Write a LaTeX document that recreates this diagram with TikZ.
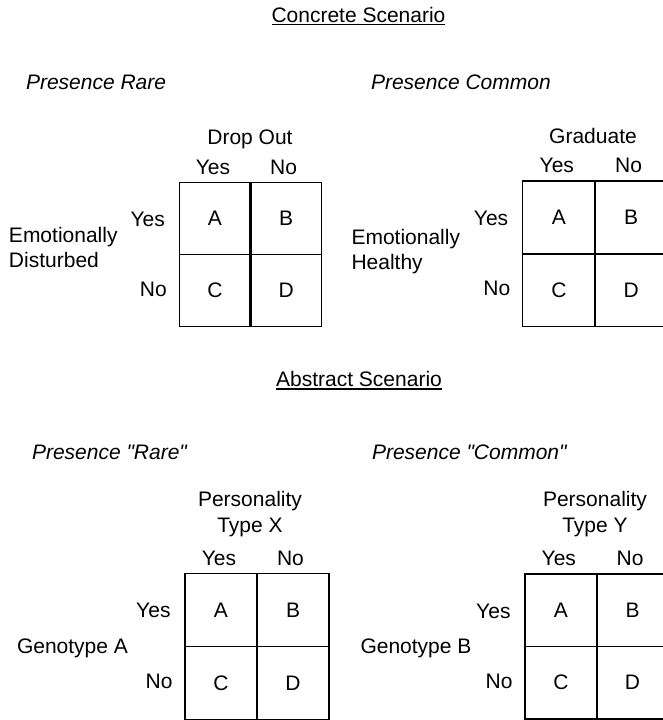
\documentclass[tikz,border=0pt]{standalone}
\usepackage{fontspec}
\setmainfont{Liberation Sans}[Ligatures=TeXOff]
\tikzset{
  every node/.style={inner sep=0pt, outer sep=0pt, font=\fontsize{21}{25}\selectfont},
  cell/.style={draw, line width=1.3pt},
  lbl/.style={anchor=base},
  rlbl/.style={anchor=base east},
  llbl/.style={anchor=base west},
  ital/.style={anchor=base west, font=\fontsize{21}{25}\selectfont\itshape},
  uline/.style={line width=1.2pt},
}
% #1 name prefix, #2 left, #3 top, #4 column width, #5 row height
\newcommand\ctab[5]{%
  \node[cell, minimum width=#4pt, minimum height=#5pt] (#1A) at ({#2+#4/2},{#3+#5/2}) {A};
  \node[cell, minimum width=#4pt, minimum height=#5pt] (#1B) at ({#2+3*#4/2},{#3+#5/2}) {B};
  \node[cell, minimum width=#4pt, minimum height=#5pt] (#1C) at ({#2+#4/2},{#3+3*#5/2}) {C};
  \node[cell, minimum width=#4pt, minimum height=#5pt] (#1D) at ({#2+3*#4/2},{#3+3*#5/2}) {D};
  \draw[line width=2.2pt] (#1A.north east) -- (#1C.south east);
  \draw[line width=1.6pt] (#1A.south west) -- (#1B.south east);
  \node[lbl] (#1cy) at ({#2+#4/2-2},{#3-8.3}) {Yes};
  \node[lbl] (#1cn) at ({#2+3*#4/2-2.5},{#3-8.3}) {No};
  \node[rlbl] (#1ry) at ({#2-14.5},{#3+44}) {Yes};
  \node[rlbl] (#1rn) at ({#2-12.5},{#3+#5+42}) {No};
}
\begin{document}
\begin{tikzpicture}[x=1pt,y=-1pt]
\useasboundingbox (0,0) rectangle (662,720);
% Concrete scenario
\node[lbl] (t1) at (358.5,22.3) {Concrete Scenario};
\draw[uline] ([yshift=-2.3pt]t1.base west) -- ([yshift=-2.3pt]t1.base east);
\node[ital] (p1) at (26,89.3) {Presence Rare};
\node[ital] (p2) at (371,89.3) {Presence Common};
\ctab{g1}{179.3}{182.3}{71.2}{72.2}
\ctab{g2}{522.7}{181}{72.3}{72.8}
\node[lbl] (h1) at (250,144) {Drop Out};
\node[lbl] (h2) at (593,143.3) {Graduate};
\node[anchor=west, align=left] (e1) at (9,247.5) {Emotionally\\Disturbed};
\node[anchor=west, align=left] (e2) at (351.5,251.2) {Emotionally\\Healthy};
% Abstract scenario
\node[lbl] (t2) at (359,386.7) {Abstract Scenario};
\draw[uline] ([yshift=-2.3pt]t2.base west) -- ([yshift=-2.3pt]t2.base east);
\node[ital] (p3) at (32,459) {Presence "Rare"};
\node[ital] (p4) at (372,459) {Presence "Common"};
\ctab{g3}{185}{573.3}{72}{73}
\ctab{g4}{525}{574}{71.7}{72.5}
\node[align=center] (h3) at (250,514.3) {Personality\\[1pt]Type X};
\node[align=center] (h4) at (595,514.3) {Personality\\[1pt]Type Y};
\node[llbl] (e3) at (17,653.3) {Genotype A};
\node[llbl] (e4) at (360.5,653.3) {Genotype B};
\end{tikzpicture}
\end{document}
